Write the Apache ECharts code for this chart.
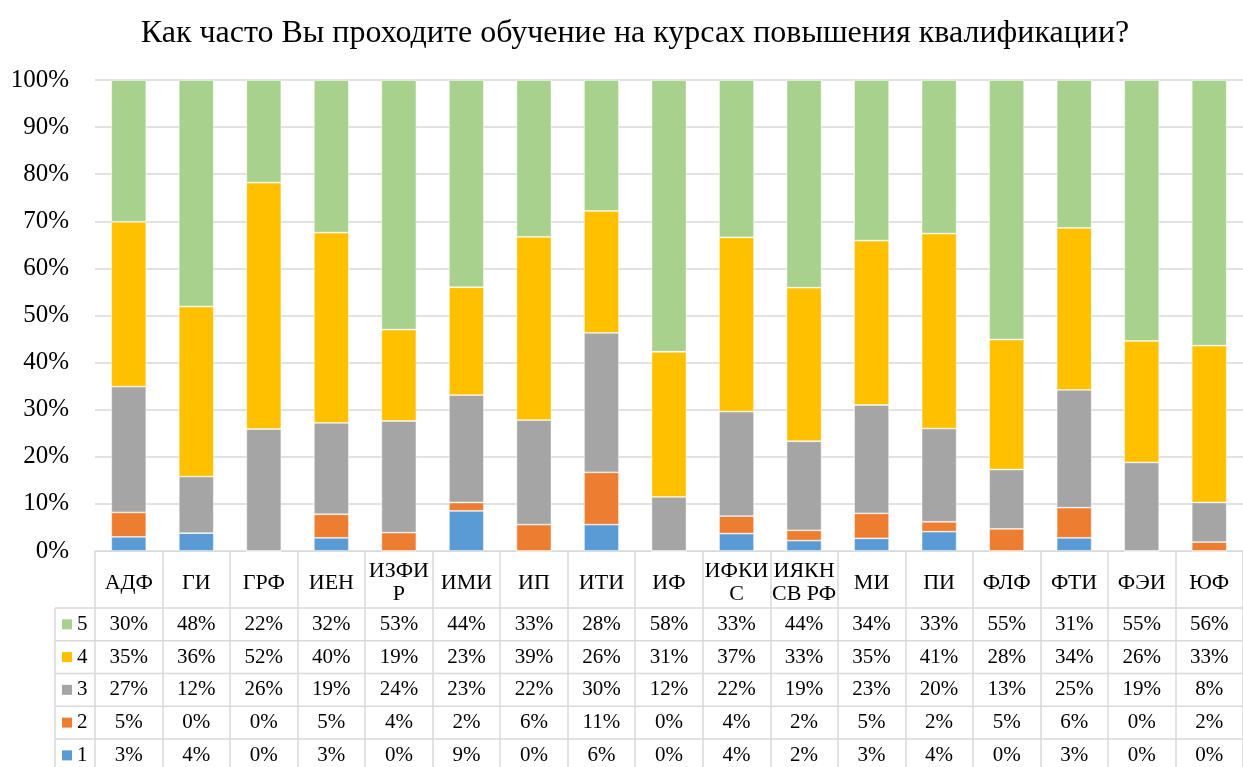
<!DOCTYPE html>
<html>
<head>
<meta charset="utf-8">
<title>Как часто Вы проходите обучение</title>
<script src="https://cdn.jsdelivr.net/npm/echarts@6/dist/echarts.min.js"></script>
<style>
  body { margin: 0; background: #fff; }
</style>
</head>
<body>
<div id="main" style="width:1243px;height:767px;"></div>
<script type="text/javascript">
// категории (институты)
var categories = ['АДФ', 'ГИ', 'ГРФ', 'ИЕН', 'ИЗФИР', 'ИМИ', 'ИП', 'ИТИ', 'ИФ', 'ИФКИС',
  'ИЯКН СВ РФ', 'МИ', 'ПИ', 'ФЛФ', 'ФТИ', 'ФЭИ', 'ЮФ'];
// подписи под осью (с переносами, как в исходной таблице)
var tickLabels = ['АДФ', 'ГИ', 'ГРФ', 'ИЕН', 'ИЗФИ\nР', 'ИМИ', 'ИП', 'ИТИ', 'ИФ', 'ИФКИ\nС',
  'ИЯКН\nСВ РФ', 'МИ', 'ПИ', 'ФЛФ', 'ФТИ', 'ФЭИ', 'ЮФ'];

// доли ответов, %
var s1 = [3.0, 3.8, 0, 2.8, 0, 8.5, 0, 5.6, 0, 3.7, 2.2, 2.7, 4.1, 0, 2.8, 0, 0];
var s2 = [5.2, 0, 0, 5.0, 3.9, 1.8, 5.6, 11.1, 0, 3.7, 2.2, 5.3, 2.1, 4.7, 6.4, 0, 1.9];
var s3 = [26.7, 12.0, 25.9, 19.4, 23.7, 22.8, 22.2, 29.6, 11.5, 22.2, 18.9, 23.0, 19.8, 12.6, 25.0, 18.8, 8.4];
var s4 = [35.0, 36.1, 52.3, 40.4, 19.4, 22.9, 38.9, 25.9, 30.8, 37.0, 32.6, 34.9, 41.4, 27.6, 34.4, 25.8, 33.3];
var s5 = [30.1, 48.1, 21.8, 32.4, 53.0, 44.0, 33.3, 27.8, 57.7, 33.4, 44.1, 34.1, 32.6, 55.1, 31.4, 55.4, 56.4];

var seriesNames = ['1', '2', '3', '4', '5'];
var colors = ['#5B9BD5', '#ED7D31', '#A5A5A5', '#FFC000', '#A9D18E'];
var yTicks = [0, 10, 20, 30, 40, 50, 60, 70, 80, 90, 100];

var font = "'Times New Roman', 'Liberation Serif', serif";
var lineColor = '#d9d9d9';

var myChart = echarts.init(document.getElementById('main'));

var values = [s1, s2, s3, s4, s5];
var series = [];
for (var k = 0; k < values.length; k++) {
  series.push({
    name: seriesNames[k],
    type: 'bar',
    stack: 'all',
    barWidth: 35,
    data: values[k],
    itemStyle: { color: colors[k], borderColor: 'rgba(255,255,255,0.6)', borderWidth: 0.8 }
  });
}

var option = {
  animation: false,
  title: {
    text: 'Как часто Вы проходите обучение на курсах повышения квалификации?',
    left: 630,
    textAlign: 'center',
    top: 13,
    textStyle: { fontFamily: font, fontSize: 32, fontWeight: 'normal', color: '#000' }
  },
  grid: { left: 95, top: 80, width: 1154, height: 471, containLabel: false },
  xAxis: {
    type: 'category',
    data: categories,
    boundaryGap: true,
    axisLine: { lineStyle: { color: lineColor, width: 1 } },
    axisTick: { show: true, length: 221, lineStyle: { color: lineColor, width: 1.5 } },
    axisLabel: {
      interval: 0,
      margin: 32,
      lineHeight: 23,
      verticalAlign: 'middle',
      fontFamily: font,
      fontSize: 22,
      color: '#000',
      formatter: function (v, i) { return tickLabels[i]; }
    }
  },
  yAxis: {
    type: 'value',
    min: yTicks[0],
    max: yTicks[yTicks.length - 1],
    interval: 10,
    axisLine: { show: false },
    axisTick: { show: false },
    splitLine: { lineStyle: { color: lineColor, width: 1.5 } },
    axisLabel: {
      margin: 26,
      fontFamily: font,
      fontSize: 25,
      color: '#000',
      formatter: '{value}%'
    }
  },
  series: series
};

myChart.setOption(option);

// таблица данных под графиком
var rowTop = 608, rowH = 32.75, tableLeft = 55, tableRight = 1249;
var graphic = [];
var rowsOrder = [4, 3, 2, 1, 0];
for (var r = 0; r <= rowsOrder.length; r++) {
  var y = rowTop + r * rowH;
  graphic.push({
    type: 'line', silent: true,
    shape: { x1: tableLeft, y1: y, x2: tableRight, y2: y },
    style: { stroke: lineColor, lineWidth: 1.5 }
  });
}
graphic.push({
  type: 'line', silent: true,
  shape: { x1: tableLeft, y1: rowTop, x2: tableLeft, y2: rowTop + 5 * rowH },
  style: { stroke: lineColor, lineWidth: 1.5 }
});
for (var r = 0; r < rowsOrder.length; r++) {
  var idx = rowsOrder[r];
  var cy = rowTop + r * rowH + rowH / 2;
  graphic.push({
    type: 'rect', silent: true,
    shape: { x: 62, y: cy - 5, width: 10, height: 10 },
    style: { fill: colors[idx] }
  });
  graphic.push({
    type: 'text', silent: true,
    x: 77, y: cy,
    style: { text: seriesNames[idx], font: '21px ' + font, fill: '#000', align: 'left', verticalAlign: 'middle' }
  });
  for (var i = 0; i < categories.length; i++) {
    var cx = myChart.convertToPixel({ xAxisIndex: 0 }, categories[i]);
    graphic.push({
      type: 'text', silent: true,
      x: cx, y: cy,
      style: {
        text: Math.round(values[idx][i]) + '%',
        font: '21px ' + font, fill: '#000', align: 'center', verticalAlign: 'middle'
      }
    });
  }
}
myChart.setOption({ graphic: graphic });
</script>
</body>
</html>
